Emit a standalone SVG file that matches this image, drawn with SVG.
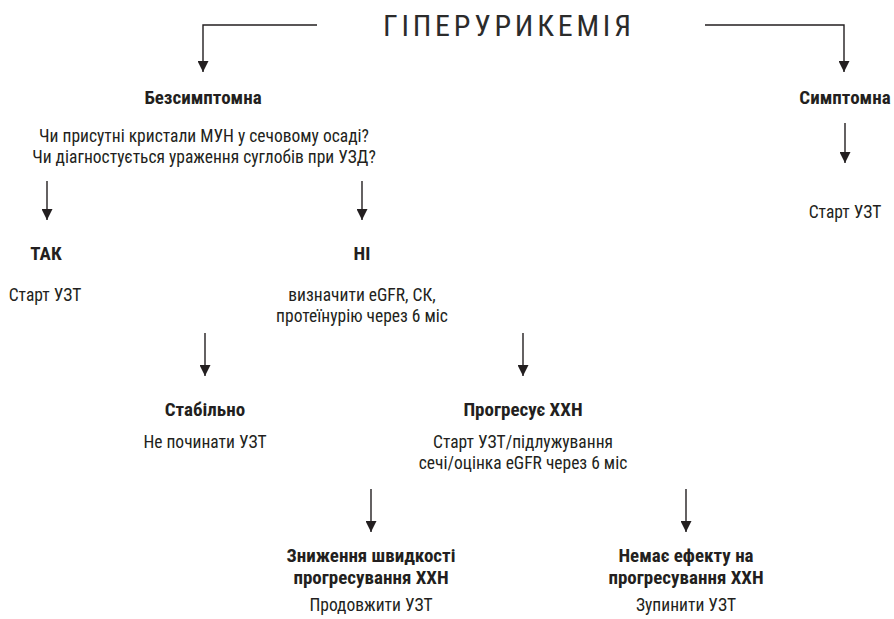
<svg xmlns="http://www.w3.org/2000/svg" width="894" height="619" viewBox="0 0 894 619">
<defs>
<marker id="ah" markerUnits="userSpaceOnUse" markerWidth="11" markerHeight="11" viewBox="0 0 11 11" refX="11" refY="5.5" orient="auto">
<path d="M0,0 L11,5.5 L0,11 Z" fill="#231f20"/>
</marker>
</defs>
<style>
text{font-family:"Liberation Sans Narrow","Roboto Condensed","DejaVu Sans Condensed","Liberation Sans",sans-serif;fill:#231f20;text-anchor:middle;font-size:17.5px}
.b{font-weight:bold;font-size:19px}
.t{font-size:30px;text-anchor:start;fill:#2b2b2b}
.c{fill:none;stroke:#231f20;stroke-width:1.4}
</style>
<rect width="894" height="619" fill="#ffffff"/>
<g id="connectors">
<path class="c" d="M317,25 H203 V72" marker-end="url(#ah)"/>
<path class="c" d="M705,25 H844 V72" marker-end="url(#ah)"/>
<path class="c" d="M845,123 V163" marker-end="url(#ah)"/>
<path class="c" d="M47,181 V220" marker-end="url(#ah)"/>
<path class="c" d="M362,181 V220" marker-end="url(#ah)"/>
<path class="c" d="M205,333 V376" marker-end="url(#ah)"/>
<path class="c" d="M523,333 V376" marker-end="url(#ah)"/>
<path class="c" d="M371,489 V532" marker-end="url(#ah)"/>
<path class="c" d="M686,489 V532" marker-end="url(#ah)"/>
</g>
<g id="title"><text class="t" x="383" y="36" textLength="248" lengthAdjust="spacing">ГІПЕРУРИКЕМІЯ</text></g>
<g id="asymptomatic">
<text class="b" x="203" y="104">Безсимптомна</text>
<text x="204" y="142">Чи присутні кристали МУН у сечовому осаді?</text>
<text x="204" y="163">Чи діагностується ураження суглобів при УЗД?</text>
</g>
<g id="symptomatic">
<text class="b" x="845" y="104">Симптомна</text>
</g>
<g id="symptomatic-start"><text x="845" y="218">Старт УЗТ</text></g>
<g id="yes">
<text class="b" x="46" y="260">ТАК</text>
<text x="45" y="301">Старт УЗТ</text>
</g>
<g id="no">
<text class="b" x="362" y="260">НІ</text>
<text x="362" y="301">визначити eGFR, СК,</text>
<text x="362" y="322">протеїнурію через 6 міс</text>
</g>
<g id="stable">
<text class="b" x="205" y="416">Стабільно</text>
<text x="205" y="448">Не починати УЗТ</text>
</g>
<g id="progress">
<text class="b" x="523" y="416">Прогресує ХХН</text>
<text x="523" y="448">Старт УЗТ/підлужування</text>
<text x="523" y="469">сечі/оцінка eGFR через 6 міс</text>
</g>
<g id="slowed">
<text class="b" x="371" y="562">Зниження швидкості</text>
<text class="b" x="371" y="584">прогресування ХХН</text>
<text x="371" y="611">Продовжити УЗТ</text>
</g>
<g id="noeffect">
<text class="b" x="686" y="562">Немає ефекту на</text>
<text class="b" x="686" y="584">прогресування ХХН</text>
<text x="686" y="611">Зупинити УЗТ</text>
</g>
</svg>
